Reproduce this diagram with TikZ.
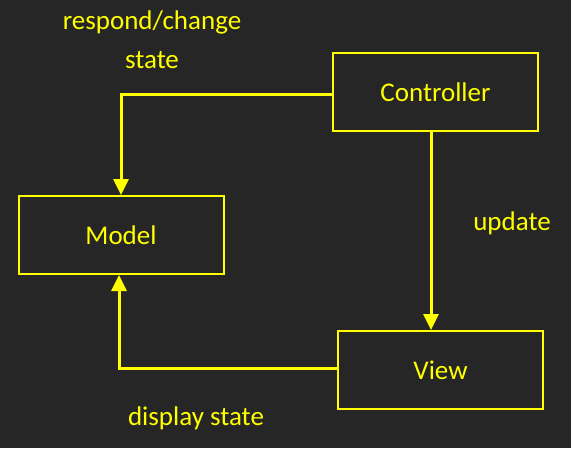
\documentclass[tikz,border=0pt]{standalone}
\usepackage{fontspec}
\setmainfont{Carlito}
\usetikzlibrary{arrows.meta}
\definecolor{bg}{HTML}{262626}
\definecolor{yel}{HTML}{FFFF00}
\begin{document}
\begin{tikzpicture}[x=1pt,y=-1pt,
  box/.style={draw=yel,line width=2pt,minimum width=205pt,minimum height=78pt,inner sep=0pt,text=yel,font=\fontsize{27}{32}\selectfont},
  lbl/.style={text=yel,font=\fontsize{27}{32}\selectfont,inner sep=0pt},
  conn/.style={draw=yel,line width=3pt,-{Triangle[width=15pt,length=16pt]}}]
\fill[bg] (0,0) rectangle (571,448);
\useasboundingbox (0,0) rectangle (571,448);
\node[box] (ctrl) at (435.5,92) {Controller};
\node[box] (model) at (121,235) {Model};
\node[box] (view) at (440.5,370) {View};
\node[lbl] (l1) at (152,22) {respond/change};
\node[lbl] (l2) at (152,60) {state};
\node[lbl] (l3) at (512,223) {update};
\node[lbl] (l4) at (196,418) {display state};
\draw[conn] ([yshift=-2pt]ctrl.west) -| (model.north);
\draw[conn] ([xshift=-4.5pt]ctrl.south) -- ([xshift=-4.5pt]ctrl.south |- view.north);
\draw[conn] ([yshift=2pt]view.west) -| ([xshift=-2pt]model.south);
\end{tikzpicture}
\end{document}
